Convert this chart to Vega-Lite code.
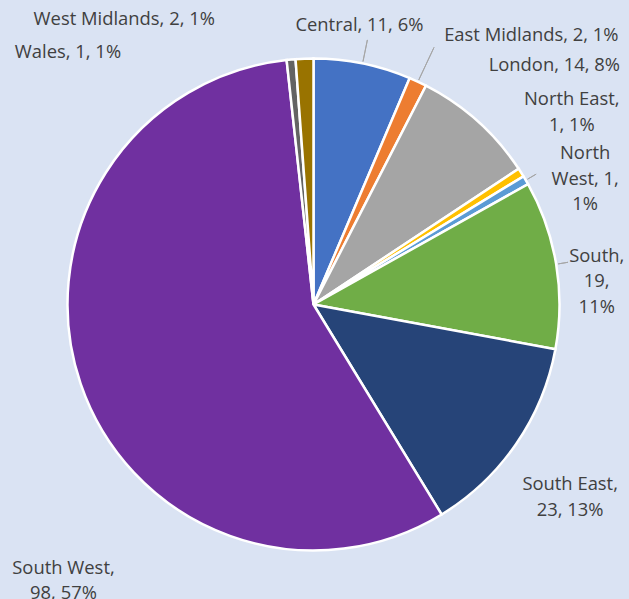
{
  "$schema": "https://vega.github.io/schema/vega-lite/v6.json",
  "width": 627,
  "height": 589,
  "autosize": "none",
  "padding": {"left": 0, "top": 10, "right": 2, "bottom": 0},
  "background": "#DAE3F3",
  "config": {"view": {"stroke": null}, "text": {"font": "Open Sans", "fontSize": 18.4, "fill": "#404040", "lineHeight": 25.5, "lineBreak": "\n", "align": "center", "baseline": "middle", "radius": 280}},
  "data": {
    "values": [
      {"region": "Central", "count": 11, "label": "Central, 11, 6%"},
      {"region": "East Midlands", "count": 2, "label": "East Midlands, 2, 1%"},
      {"region": "London", "count": 14, "label": "London, 14, 8%"},
      {"region": "North East", "count": 1, "label": "North East,\n1, 1%"},
      {"region": "North West", "count": 1, "label": "North\nWest, 1,\n1%"},
      {"region": "South", "count": 19, "label": "South,\n19,\n11%"},
      {"region": "South East", "count": 23, "label": "South East,\n23, 13%"},
      {"region": "South West", "count": 98, "label": "South West,\n98, 57%"},
      {"region": "Wales", "count": 1, "label": "Wales, 1, 1%"},
      {"region": "West Midlands", "count": 2, "label": "West Midlands, 2, 1%"}
    ]
  },
  "encoding": {
    "theta": {"field": "count", "type": "quantitative", "stack": true},
    "order": {"field": "region", "type": "ordinal"}
  },
  "layer": [
    {
      "mark": {"type": "arc", "outerRadius": 246, "stroke": "white", "strokeWidth": 2.5},
      "encoding": {
        "color": {
          "field": "region", "type": "nominal", "legend": null,
          "scale": {
            "domain": ["Central", "East Midlands", "London", "North East", "North West", "South", "South East", "South West", "Wales", "West Midlands"],
            "range": ["#4472C4", "#ED7D31", "#A5A5A5", "#FFC000", "#5B9BD5", "#70AD47", "#264478", "#7030A0", "#636363", "#997300"]
          }
        }
      }
    },
    {
      "mark": {"type": "arc", "innerRadius": 248, "outerRadius": 270, "padAngle": 1.5, "fill": "transparent", "stroke": "#A6A6A6", "strokeWidth": 1},
      "encoding": {"strokeOpacity": {"condition": {"test": "datum.region === 'Central'", "value": 1}, "value": 0}}
    },
    {
      "mark": {"type": "arc", "innerRadius": 248, "outerRadius": 284, "padAngle": 1.5, "fill": "transparent", "stroke": "#A6A6A6", "strokeWidth": 1},
      "encoding": {"strokeOpacity": {"condition": {"test": "datum.region === 'East Midlands'", "value": 1}, "value": 0}}
    },
    {
      "mark": {"type": "arc", "innerRadius": 248, "outerRadius": 258, "padAngle": 1.5, "fill": "transparent", "stroke": "#A6A6A6", "strokeWidth": 1},
      "encoding": {"strokeOpacity": {"condition": {"test": "datum.region === 'North West' || datum.region === 'South'", "value": 1}, "value": 0}}
    },
    {"mark": {"type": "text", "dx": -10, "dy": -5}, "encoding": {"text": {"condition": {"test": "datum.region === 'Central'", "field": "label"}, "value": ""}}},
    {"mark": {"type": "text", "dx": 99, "dy": -16}, "encoding": {"text": {"condition": {"test": "datum.region === 'East Midlands'", "field": "label"}, "value": ""}}},
    {"mark": {"type": "text", "dx": 54, "dy": -31}, "encoding": {"text": {"condition": {"test": "datum.region === 'London'", "field": "label"}, "value": ""}}},
    {"mark": {"type": "text", "dx": 22, "dy": -55}, "encoding": {"text": {"condition": {"test": "datum.region === 'North East'", "field": "label"}, "value": ""}}},
    {"mark": {"type": "text", "dx": 30, "dy": -10}, "encoding": {"text": {"condition": {"test": "datum.region === 'North West'", "field": "label"}, "value": ""}}},
    {"mark": {"type": "text", "dx": 7, "dy": -3}, "encoding": {"text": {"condition": {"test": "datum.region === 'South'", "field": "label"}, "value": ""}}},
    {"mark": {"type": "text", "dx": 26, "dy": 21}, "encoding": {"text": {"condition": {"test": "datum.region === 'South East'", "field": "label"}, "value": ""}}},
    {"mark": {"type": "text", "dx": 15, "dy": 173}, "encoding": {"text": {"condition": {"test": "datum.region === 'South West'", "field": "label"}, "value": ""}}},
    {"mark": {"type": "text", "dx": -220, "dy": 26}, "encoding": {"text": {"condition": {"test": "datum.region === 'Wales'", "field": "label"}, "value": ""}}},
    {"mark": {"type": "text", "dx": -179, "dy": -6}, "encoding": {"text": {"condition": {"test": "datum.region === 'West Midlands'", "field": "label"}, "value": ""}}}
  ]
}
